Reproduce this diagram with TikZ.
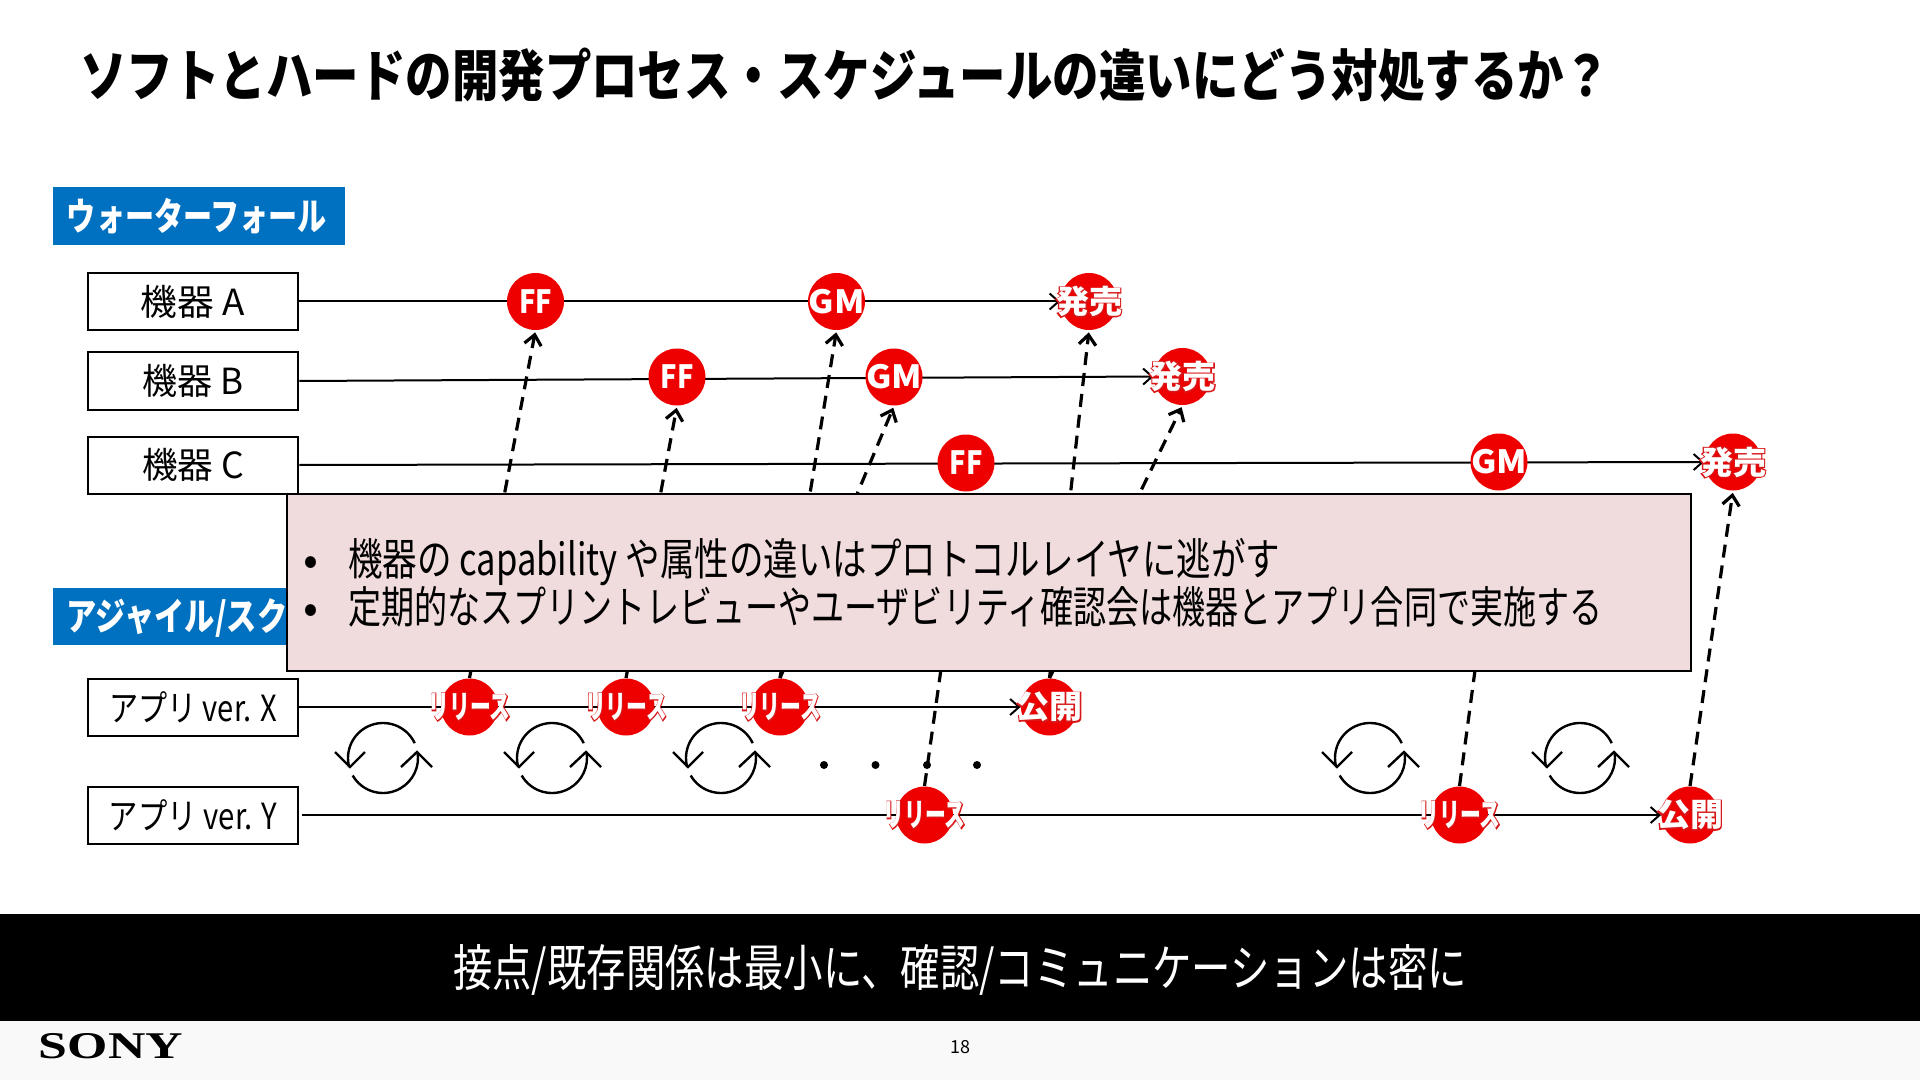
\documentclass[tikz,border=0pt]{standalone}
\usepackage{fontspec}
\usepackage{graphicx}
\usetikzlibrary{arrows.meta,backgrounds}
\setmainfont{Noto Sans CJK JP}
\newfontfamily\jpglow[UprightFeatures={FakeBold=8},BoldFont={Noto Sans CJK JP Bold},BoldFeatures={FakeBold=8}]{Noto Sans CJK JP}
\newfontfamily\logofont{Liberation Serif}
\newlength\pxu \pxu=0.5pt
\newcommand\fit[2]{\resizebox{#1\pxu}{\height}{#2}}
\newcommand\cfit[2]{\makebox[0pt]{\resizebox{#1\pxu}{\height}{#2}}}
\definecolor{halo}{HTML}{D81818}
\newcommand\glow[2]{\makebox[0pt]{\resizebox{#1\pxu}{\height}{\color{halo}\special{pdf:code 0.847 0.094 0.094 RG}\jpglow\bfseries #2}}\makebox[0pt]{\resizebox{#1\pxu}{\height}{#2}}}
\definecolor{hdrblue}{HTML}{0070C0}
\definecolor{pinkbox}{HTML}{F0DCDC}
\definecolor{mark}{HTML}{EE0000}
\definecolor{foot}{HTML}{F9F9F9}
\tikzset{
  label box/.style={draw=black,line width=1pt,fill=white,minimum width=105.25pt,minimum height=28.5pt,inner sep=0pt,font=\fontsize{18}{20}\selectfont},
  header/.style={fill=hdrblue,text=white,inner sep=0pt,anchor=north west},
  hdrtext/.style={text=white,font=\fontsize{19}{21}\selectfont\bfseries,inner sep=0pt},
  event/.style={circle,fill=mark,minimum size=28.5pt,inner sep=0pt,text=white,font=\fontsize{16}{18}\selectfont\bfseries},
  flow/.style={line width=1pt,-{Straight Barb[length=4.5pt,width=8pt,line width=1pt]}},
  link/.style={line width=1.6pt,dash pattern=on 6.5pt off 4pt,-{Straight Barb[length=5pt,width=8.5pt,line width=1.6pt]},shorten >=1pt},
  pics/cycle/.style={code={
    \draw[line width=1.2pt] (-25:35) arc[start angle=-25,end angle=-195,radius=35];
    \draw[line width=1.2pt] (150:35) arc[start angle=150,end angle=-10,radius=35];
    \draw[line width=1.2pt] (-48,-6) -- (-33,9) -- (-18,-6);
    \draw[line width=1.2pt] (18,9) -- (34,-6) -- (49,9);
  }}
}
\begin{document}
\begin{tikzpicture}[x=0.5pt,y=-0.5pt]
\useasboundingbox (0,0) rectangle (1920,1080);
% footer + band
\fill[foot] (0,1021) rectangle (1920,1080);
\node[fill=black,minimum width=960pt,minimum height=53.5pt,inner sep=0pt] (band) at (960,967.5) {};
\node[text=white,font=\fontsize{25}{28}\selectfont] (bandtext) at (960,970) {\fit{1014}{接点/既存関係は最小に、確認/コミュニケーションは密に}};
\node[font=\logofont\bfseries,inner sep=0pt] (sony) at (111,1046) {\resizebox{72pt}{12.5pt}{SONY}};
\node[font=\fontsize{9}{11}\selectfont,inner sep=0pt] (page) at (960,1047) {18};
% title
\node[anchor=west,inner sep=0pt,font=\fontsize{28}{32}\selectfont\bfseries] (title) at (80,75) {\fit{1530}{ソフトとハードの開発プロセス・スケジュールの違いにどう対処するか？}};
% headers
\node[header,minimum width=146pt,minimum height=29pt] (hdr1) at (53,186.5) {};
\node[hdrtext] (hdr1t) at (197,216) {\fit{260}{ウォーターフォール}};
\node[header,minimum width=125pt,minimum height=28.5pt] (hdr2) at (53,588) {};
\node[hdrtext,anchor=west] (hdr2t) at (66,618) {\fit{221}{アジャイル/スク}};
% label boxes
\node[label box] (boxa) at (193,301.5) {\fit{104}{機器 A}};
\node[label box] (boxb) at (193,381) {\fit{101}{機器 B}};
\node[label box] (boxc) at (193,465) {\fit{102}{機器 C}};
\node[label box] (boxx) at (193,707) {\fit{168}{アプリ ver. X}};
\node[label box] (boxy) at (193,815) {\fit{168}{アプリ ver. Y}};
% events
\node[event] (ffa) at (535.5,301.5) {\cfit{33}{FF}};
\node[event] (gma) at (836.5,301.5) {\cfit{56}{GM}};
\node[event] (salea) at (1089,301.5) {\glow{66}{発売}};
\node[event] (ffb) at (677,377) {\cfit{33}{FF}};
\node[event] (gmb) at (894,377) {\cfit{56}{GM}};
\node[event] (saleb) at (1182.5,376.5) {\glow{66}{発売}};
\node[event] (ffc) at (966,463) {\cfit{33}{FF}};
\node[event] (gmc) at (1499,462) {\cfit{56}{GM}};
\node[event] (salec) at (1733,462) {\glow{66}{発売}};
\node[event] (xa) at (469.5,707) {\glow{82}{リリース}};
\node[event] (xb) at (626,707) {\glow{82}{リリース}};
\node[event] (xc) at (780,707) {\glow{82}{リリース}};
\node[event] (xp) at (1049.5,707) {\glow{66}{公開}};
\node[event] (ya) at (924.5,815) {\glow{82}{リリース}};
\node[event] (yb) at (1459.5,815) {\glow{82}{リリース}};
\node[event] (yp) at (1690,815) {\glow{66}{公開}};
% connectors under the event circles
\begin{scope}[on background layer]
\draw[flow] (boxa.east) -- (salea.west);
\draw[flow] (boxb.east) -- (saleb.west);
\draw[flow] (boxc.east) -- (salec.west);
\draw[flow] (boxx.east) -- (xp.west);
\draw[flow,shorten <=1.5pt] (boxy.east) -- (yp.west);
\draw[link] (xa.north) -- (ffa.south);
\draw[link] (xb.north) -- (ffb.south);
\draw[link] (xc.north) -- (gma.south);
\draw[link] (xc.north) -- (gmb.south);
\draw[link] (xp.north) -- (salea.south);
\draw[link] (xp.north) -- (saleb.south);
\draw[link] (ya.north) -- (ffc.south);
\draw[link] (yb.north) -- (gmc.south);
\draw[link] (yp.north) -- (salec.south);
\end{scope}
% cycles
\pic at (383,758) {cycle};
\pic at (552,758) {cycle};
\pic at (721,758) {cycle};
\pic at (1370,758) {cycle};
\pic at (1580,758) {cycle};
% dots
\fill (824,765) circle[radius=4];
\fill (875.5,765) circle[radius=4];
\fill (927,765) circle[radius=4];
\fill (977,765) circle[radius=4];
% overlay box
\node[draw=black,line width=1pt,fill=pinkbox,minimum width=702pt,minimum height=88.5pt,inner sep=0pt] (note) at (989,582.5) {};
\node[anchor=west,inner sep=0pt,font=\fontsize{22}{24}\selectfont] (line1) at (303,562) {\makebox[22.5pt][l]{•}\fit{932}{機器の capability や属性の違いはプロトコルレイヤに逃がす}};
\node[anchor=west,inner sep=0pt,font=\fontsize{22}{24}\selectfont] (line2) at (303,607) {\makebox[22.5pt][l]{•}\fit{1254}{定期的なスプリントレビューやユーザビリティ確認会は機器とアプリ合同で実施する}};
\end{tikzpicture}
\end{document}
